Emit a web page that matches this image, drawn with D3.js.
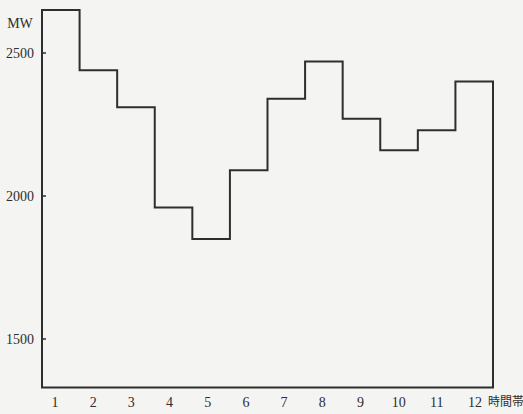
<!DOCTYPE html>
<html>
<head>
<meta charset="utf-8">
<script src="https://cdn.jsdelivr.net/npm/d3@7"></script>
<style>
  html, body { margin: 0; padding: 0; background: #f4f4f2; }
  svg { display: block; }
</style>
</head>
<body>
<svg id="chart" width="523" height="414"></svg>
<script>
const hours = [1, 2, 3, 4, 5, 6, 7, 8, 9, 10, 11, 12];
const demand = [2650, 2440, 2310, 1960, 1850, 2090, 2340, 2470, 2270, 2160, 2230, 2400];
const yTicks = [1500, 2000, 2500];
const yUnit = "MW";
const xUnit = "時間帯";
const yBase = 1330;

const svg = d3.select("#chart");
const ink = "#2e2e2e";
const serif = "'Liberation Serif', 'DejaVu Serif', serif";

const x = d3.scaleLinear().domain([0, 12]).range([42, 493]);
const y = d3.scaleLinear().domain([1500, 2500]).range([339, 53]);
const xLab = d3.scaleLinear().domain([1, 12]).range([55, 475]);

// step outline (left axis, steps, right edge, baseline)
const pts = [[0, yBase]];
hours.forEach((h, i) => pts.push([h - 1, demand[i]]));
pts.push([12, demand[demand.length - 1]]);
pts.push([12, yBase]);

const line = d3.line()
  .x(d => x(d[0]))
  .y(d => y(d[1]))
  .curve(d3.curveStepAfter);

svg.append("path")
  .attr("d", line(pts) + "Z")
  .attr("fill", "none")
  .attr("stroke", ink)
  .attr("stroke-width", 2)
  .attr("stroke-linejoin", "miter");

// y ticks
const yt = svg.append("g");
yTicks.forEach(t => {
  yt.append("line")
    .attr("x1", x(0) - 1).attr("x2", x(0) + 4)
    .attr("y1", y(t)).attr("y2", y(t))
    .attr("stroke", ink).attr("stroke-width", 1.5);
  yt.append("text")
    .attr("x", x(0) - 8).attr("y", y(t))
    .attr("dy", "0.35em")
    .attr("text-anchor", "end")
    .attr("font-family", serif)
    .attr("font-size", 14)
    .attr("fill", ink)
    .text(t);
});

svg.append("text")
  .attr("x", 20).attr("y", 23)
  .attr("dy", "0.35em")
  .attr("text-anchor", "middle")
  .attr("font-family", serif)
  .attr("font-size", 14)
  .attr("fill", ink)
  .text(yUnit);

// x labels
const xl = svg.append("g");
hours.forEach(h => {
  xl.append("text")
    .attr("x", xLab(h)).attr("y", 402)
    .attr("dy", "0.35em")
    .attr("text-anchor", "middle")
    .attr("font-family", serif)
    .attr("font-size", 14)
    .attr("fill", ink)
    .text(h);
});

svg.append("text")
  .attr("x", 488).attr("y", 402)
  .attr("dy", "0.35em")
  .attr("text-anchor", "start")
  .attr("font-family", "'Noto Sans CJK JP', sans-serif")
  .attr("font-size", 12)
  .attr("fill", ink)
  .text(xUnit);
</script>
</body>
</html>
